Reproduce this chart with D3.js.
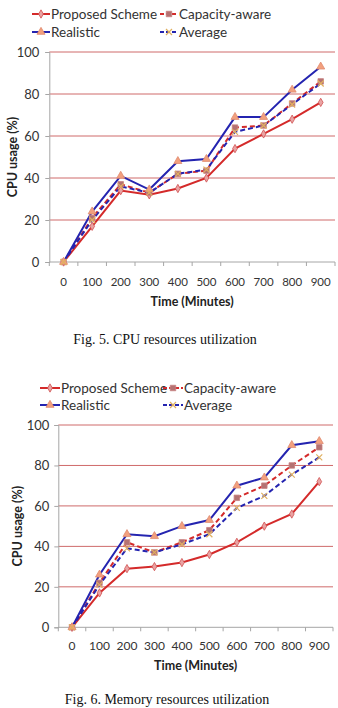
<!DOCTYPE html>
<html><head><meta charset="utf-8">
<script src="https://cdn.jsdelivr.net/npm/d3@7"></script>
<style>body{margin:0;background:#fff}svg{display:block}</style>
</head><body>
<svg id="c" width="338" height="708"></svg>
<script>
const categories = ["0","100","200","300","400","500","600","700","800","900"];
const yTicks = [0,20,40,60,80,100];
const seriesNames = ["Proposed Scheme","Capacity-aware","Realistic","Average"];
// Fig. 5 CPU
const cpuProposed = [0,17,34,32,35,40,54,61,68,76];
const cpuCapacity = [0,21,37,33,42,43.5,64,65,75.5,86];
const cpuRealistic = [0,24,41,34.5,48,49,69,69,82,93];
const cpuAverage = [0,20,36,33,42,44,62,65,75,85];
// Fig. 6 Memory
const memProposed = [0,17,29,30,32,36,42,50,56,72];
const memCapacity = [0,22,42,37,42,48,64,70,80,89];
const memRealistic = [0,26,46,45,50,53,70,74,90,92];
const memAverage = [0,21,39,37,41,46,59,65,75.5,84];

const FONT = "Lato, 'DejaVu Sans', sans-serif";
const styles = [
  {color:"#d42a2a", dash:null, marker:"diamond", fill:"#e9a3a3", mstroke:"#d05050"},
  {color:"#d42a2a", dash:"5,3", marker:"square", fill:"#b47272", mstroke:"#c88080"},
  {color:"#2424b0", dash:null, marker:"triangle", fill:"#f2a07e", mstroke:"#e08a70"},
  {color:"#2424b0", dash:"5,3", marker:"cross", fill:"none", mstroke:"#e0b060"}
];
const svg = d3.select("#c");

function marker(g, type, x, y, st){
  if(type==="cross"){
    g.append("path").attr("d",`M${x-3},${y-3}L${x+3},${y+3}M${x-3},${y+3}L${x+3},${y-3}`)
      .attr("stroke",st.mstroke).attr("stroke-width",1.2).attr("fill","none");
    return;
  }
  const sym = {diamond:d3.symbolDiamond, square:d3.symbolSquare, triangle:d3.symbolTriangle}[type];
  const size = {diamond:20, square:30, triangle:28}[type];
  g.append("path").attr("d", d3.symbol().type(sym).size(size)())
    .attr("transform",`translate(${x},${y})`)
    .attr("fill",st.fill).attr("stroke",st.mstroke).attr("stroke-width",0.8);
}

function drawChart(cfg){
  const g = svg.append("g");
  const x = d3.scaleBand().domain(categories).range([cfg.L,cfg.R]);
  const y = d3.scaleLinear().domain([0,100]).range([cfg.B,cfg.T]);
  const cx = c => x(c)+x.bandwidth()/2;
  // gridlines
  g.selectAll(".grid").data(yTicks.filter(v=>v>0)).enter().append("line")
    .attr("x1",cfg.L).attr("x2",cfg.R).attr("y1",d=>y(d)).attr("y2",d=>y(d))
    .attr("stroke","#cf6a6a").attr("stroke-width",1);
  // y axis
  const ya = g.append("g").attr("transform",`translate(${cfg.L},0)`)
    .call(d3.axisLeft(y).tickValues(yTicks).tickSize(4).tickPadding(cfg.yPad));
  ya.select(".domain").attr("stroke","#a6a6a6");
  ya.selectAll(".tick line").attr("stroke","#a6a6a6");
  ya.selectAll("text").attr("font-family",FONT).attr("font-size",cfg.yFs).attr("fill","#333");
  // x axis
  g.append("line").attr("x1",cfg.L).attr("x2",cfg.R).attr("y1",cfg.B).attr("y2",cfg.B).attr("stroke","#a6a6a6");
  const bounds = categories.map(c=>x(c)).concat([cfg.R]);
  g.selectAll(".xt").data(bounds).enter().append("line")
    .attr("x1",d=>d).attr("x2",d=>d).attr("y1",cfg.B).attr("y2",cfg.B+4).attr("stroke","#a6a6a6");
  g.selectAll(".xl").data(categories).enter().append("text")
    .attr("x",d=>cx(d)).attr("y",cfg.B+cfg.xOff).attr("text-anchor","middle")
    .attr("font-family",FONT).attr("font-size",cfg.xFs).attr("fill","#333").text(d=>d);
  // titles
  g.append("text").attr("x",(cfg.L+cfg.R)/2).attr("y",cfg.B+cfg.xTitleOff).attr("text-anchor","middle")
    .attr("font-family",FONT).attr("font-weight","bold").attr("font-size",cfg.titleFs).attr("fill","#222").text("Time (Minutes)");
  g.append("text").attr("transform",`translate(${cfg.yTitleX},${(cfg.T+cfg.B)/2}) rotate(-90)`)
    .attr("text-anchor","middle").attr("dy","0.35em")
    .attr("font-family",FONT).attr("font-weight","bold").attr("font-size",cfg.titleFs).attr("fill","#222").text("CPU usage (%)");
  // series
  const line = d3.line().x((d,i)=>cx(categories[i])).y(d=>y(d));
  cfg.data.forEach((arr,si)=>{
    const st = styles[si];
    g.append("path").datum(arr).attr("d",line).attr("fill","none")
      .attr("stroke",st.color).attr("stroke-width",2).attr("stroke-dasharray",st.dash);
  });
  cfg.data.forEach((arr,si)=>{
    const st = styles[si];
    arr.forEach((v,i)=>marker(g, st.marker, cx(categories[i]), y(v), st));
  });
  // legend
  const leg = [[0,0],[1,0],[0,1],[1,1]];
  seriesNames.forEach((n,si)=>{
    const st = styles[si];
    const [col,row] = leg[si];
    const lx = col===0 ? cfg.legX1 : cfg.legX2;
    const ly = cfg.legY + row*cfg.legDy;
    g.append("line").attr("x1",lx).attr("x2",lx+cfg.legLen).attr("y1",ly).attr("y2",ly)
      .attr("stroke",st.color).attr("stroke-width",2).attr("stroke-dasharray",st.dash?"4,2":null);
    marker(g, st.marker, lx+cfg.legLen/2, ly, st);
    g.append("text").attr("x",lx+cfg.legLen+1).attr("y",ly).attr("dy","0.35em")
      .attr("font-family",FONT).attr("font-size",cfg.legFs).attr("fill","#333").text(n);
  });
  // caption
  g.append("text").attr("x",cfg.capX).attr("y",cfg.capY).attr("text-anchor","middle")
    .attr("font-family","'Liberation Serif','Times New Roman',serif").attr("font-size",14).attr("fill","#111").text(cfg.caption);
}

drawChart({L:49.3,R:335,T:52,B:262,yPad:6,yFs:13,xFs:11.5,xOff:24,xTitleOff:44,titleFs:12.5,yTitleX:12.5,
  data:[cpuProposed,cpuCapacity,cpuRealistic,cpuAverage],
  legX1:32,legX2:160,legY:14,legDy:18,legLen:18,legFs:13.5,
  caption:"Fig. 5. CPU resources utilization",capX:165,capY:344});
drawChart({L:58.3,R:333,T:425,B:627.3,yPad:5,yFs:13,xFs:12,xOff:23,xTitleOff:43,titleFs:12.5,yTitleX:18,
  data:[memProposed,memCapacity,memRealistic,memAverage],
  legX1:40,legX2:163,legY:388,legDy:17,legLen:20,legFs:13.5,
  caption:"Fig. 6. Memory resources utilization",capX:167,capY:704});
</script>
</body></html>
